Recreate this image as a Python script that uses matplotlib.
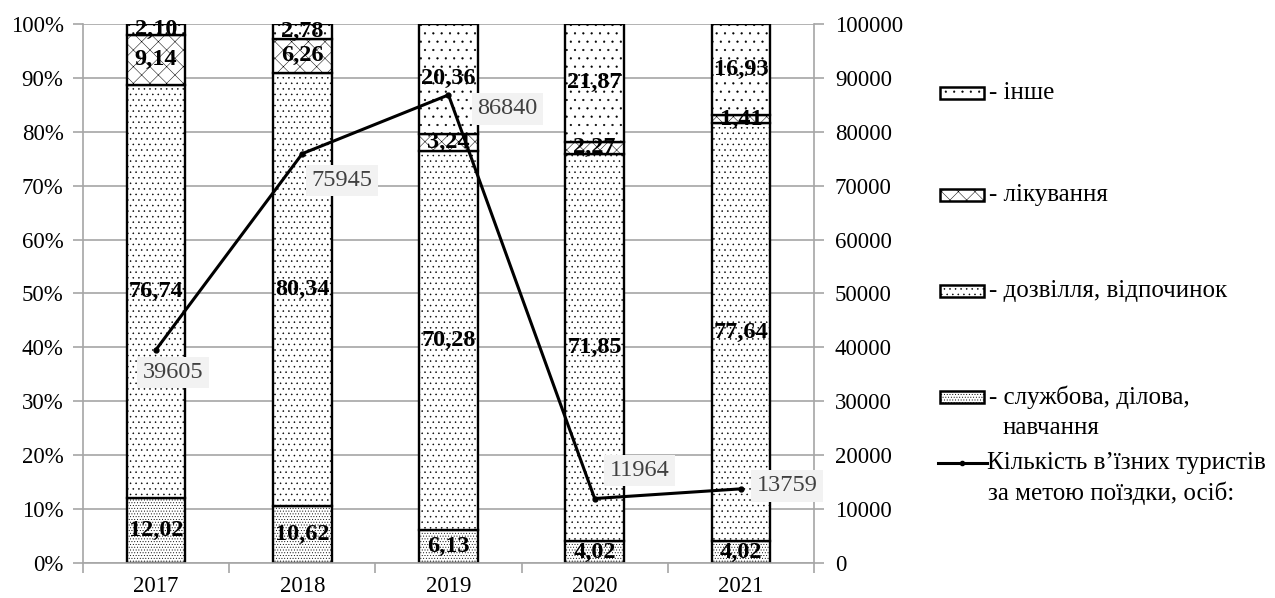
import matplotlib
matplotlib.use('Agg')
import matplotlib.pyplot as plt
from matplotlib.patches import Rectangle
from matplotlib.lines import Line2D
import numpy as np

plt.rcParams['font.family'] = ['Liberation Serif', 'DejaVu Serif']
plt.rcParams['hatch.linewidth'] = 0.35

years = ['2017', '2018', '2019', '2020', '2021']
sluzhbova = np.array([12.02, 10.62, 6.13, 4.02, 4.02])
dozvillia = np.array([76.74, 80.34, 70.28, 71.85, 77.64])
likuvannia = np.array([9.14, 6.26, 3.24, 2.27, 1.41])
inshe = np.array([2.10, 2.78, 20.36, 21.87, 16.93])
turysty = np.array([39605, 75945, 86840, 11964, 13759])

# offsets of the line labels, pixels
label_dx = [17, 40, 59, 45, 46]
label_dy = [-23, -27, -14, 28, 3]

seg_names = ['- службова, ділова,', '- дозвілля, відпочинок', '- лікування', '- інше']
seg_hatch = ['......', '...', 'xx', '..']

grid_c = '#a6a6a6'

fig = plt.figure(figsize=(12.75, 5.98), dpi=100)
ax = fig.add_axes([0.0651, 0.0585, 0.5733, 0.9014])
x = np.arange(len(years))

segs = [sluzhbova, dozvillia, likuvannia, inshe]
bottom = np.zeros(len(years))
for vals, h in zip(segs, seg_hatch):
    ax.bar(x, vals, 0.4, bottom=bottom, color='white', edgecolor='black',
           linewidth=1.7, hatch=h, zorder=2)
    for xi, b, v in zip(x, bottom, vals):
        ax.text(xi, b + v / 2, f'{v:.2f}'.replace('.', ','), ha='center', va='center',
                fontsize=17.5, fontweight='bold', zorder=4)
    bottom += vals

ax.set_xlim(-0.5, 4.5)
ax.set_ylim(0, 100)
ax.set_yticks(np.arange(0, 101, 10))
ax.set_yticklabels([f'{v}%' for v in range(0, 101, 10)])
ax.set_xticks(x)
ax.set_xticklabels(years)
ax.set_xticks(np.arange(-0.5, 5, 1), minor=True)
ax.tick_params(axis='x', which='major', length=0, labelsize=16.5, pad=9)
ax.tick_params(axis='x', which='minor', length=7, color=grid_c, width=1.2)
ax.tick_params(axis='y', length=7, color=grid_c, width=1.2, labelsize=16.5, pad=7)
ax.grid(axis='y', color=grid_c, linewidth=1.2, zorder=0)
ax.set_axisbelow(True)
for s in ['top', 'right']:
    ax.spines[s].set_visible(False)
for s in ['left', 'bottom']:
    ax.spines[s].set_color(grid_c)
    ax.spines[s].set_linewidth(1.2)

ax2 = ax.twinx()
ax2.plot(x, turysty, color='black', linewidth=2.2, marker='o', markersize=3.5, zorder=5)
ax2.set_ylim(0, 100000)
ax2.set_yticks(np.arange(0, 100001, 10000))
ax2.tick_params(axis='y', length=7, color=grid_c, width=1.2, labelsize=16.5, pad=8)
for s in ['top', 'left', 'bottom']:
    ax2.spines[s].set_visible(False)
ax2.spines['right'].set_color(grid_c)
ax2.spines['right'].set_linewidth(1.2)
for xi, v, dx, dy in zip(x, turysty, label_dx, label_dy):
    ax2.annotate(str(v), (xi, v), xytext=(dx, dy), textcoords='offset pixels',
                 ha='center', va='center', fontsize=17.5, color='#404040',
                 bbox=dict(boxstyle='square,pad=0.22', fc='#f2f2f2', ec='none'),
                 zorder=6)

# legend drawn by hand on the right
W, H = 1275, 598
leg_rows = [(93, 3), (195, 2), (291, 1), (397, 0)]
for ypx, i in leg_rows:
    fig.add_artist(Rectangle((940 / W, 1 - (ypx + 6) / H), 44 / W, 12 / H,
                             transform=fig.transFigure, facecolor='white',
                             edgecolor='black', linewidth=1.8, hatch=seg_hatch[i]))
    fig.text(989 / W, 1 - ypx / H, seg_names[i], fontsize=18, va='center')
fig.text(1003 / W, 1 - 428 / H, 'навчання', fontsize=18, va='center')
fig.add_artist(Line2D([938 / W, 987 / W], [1 - 463 / H, 1 - 463 / H],
                      transform=fig.transFigure, color='black', linewidth=2.2))
fig.add_artist(Line2D([962 / W], [1 - 463 / H], transform=fig.transFigure,
                      color='black', marker='o', markersize=3))
fig.text(987 / W, 1 - 463 / H, 'Кількість в’їзних туристів', fontsize=18, va='center')
fig.text(988 / W, 1 - 493 / H, 'за метою поїздки, осіб:', fontsize=18, va='center')

fig.savefig('out.png', dpi=100)
plt.close()
